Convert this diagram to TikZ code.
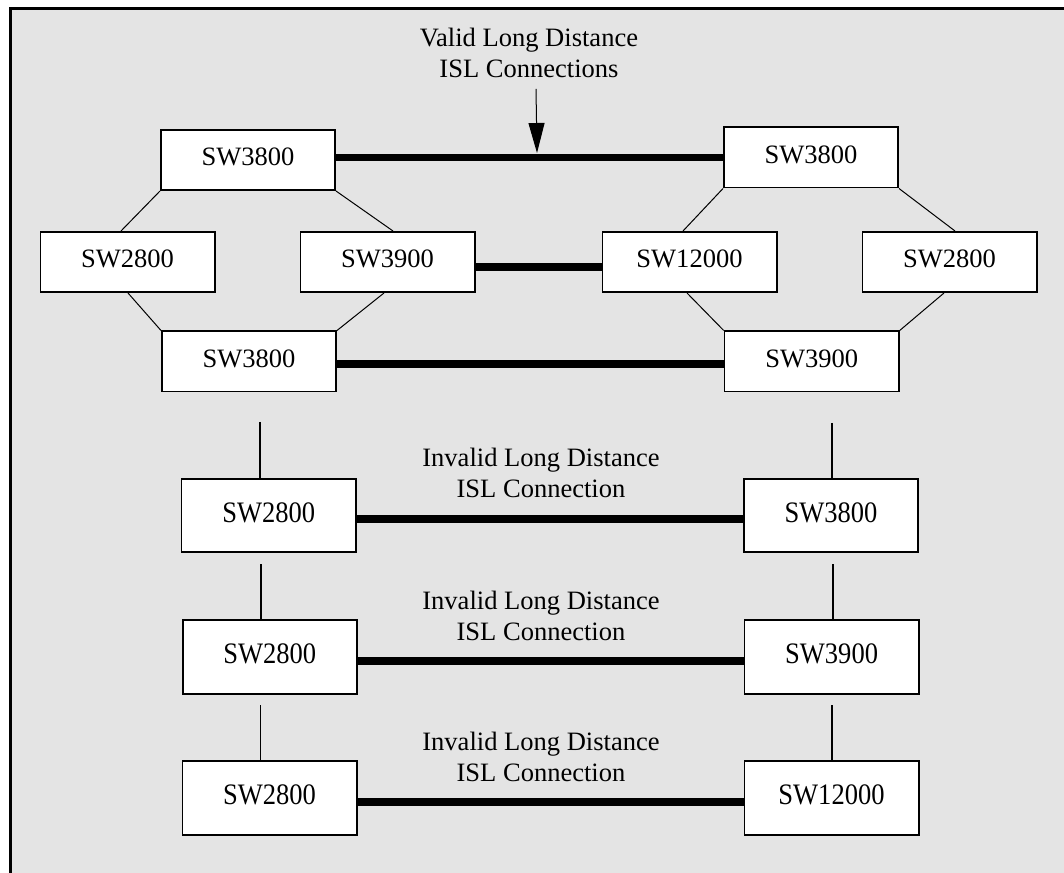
\documentclass[tikz,border=0pt]{standalone}
\usepackage{fontspec}
\usepackage{graphicx}
\setmainfont{Liberation Serif}
\usetikzlibrary{arrows.meta}
\definecolor{bg}{RGB}{228,228,228}
\begin{document}
\begin{tikzpicture}[x=0.75pt,y=-0.75pt,
  box/.style={draw, line width=1.3pt, fill=white, minimum width=130.7pt, minimum height=45.2pt,
    inner sep=0pt, text height=9pt, text depth=0pt, font=\fontsize{19.9}{24}\selectfont},
  lbox/.style={box, minimum height=55pt, text height=9.8pt},
  thinl/.style={line width=0.75pt},
  stub/.style={line width=1.1pt},
  isl/.style={line width=5.6pt},
  lbl/.style={anchor=base, inner sep=0pt, font=\fontsize{19.9}{24}\selectfont}]
\useasboundingbox (0,0) rectangle (1064,873);
\clip (0,0) rectangle (1064,873);
\draw[line width=2.25pt, fill=bg] (10,9) rectangle (1080,890);

% top diamond groups
\node[box] (t1) at (248,160) {SW3800};
\node[box] (l2) at (127.5,262) {SW2800};
\node[box] (l3) at (387.5,262) {SW3900};
\node[box] (b1) at (249,361.5) {SW3800};
\node[box] (rt) at (811,157.5) {SW3800};
\node[box] (r12) at (689.5,262) {SW12000};
\node[box] (r28) at (949.5,262) {SW2800};
\node[box] (rb) at (811.7,361.5) {SW3900};

\draw[thinl] (t1.south west) -- (121,0 |- l2.north);
\draw[thinl] (t1.south east) -- (393,0 |- l3.north);
\draw[thinl] (128,0 |- l2.south) -- (b1.north west);
\draw[thinl] (384,0 |- l3.south) -- (b1.north east);
\draw[thinl] (rt.south west) -- (683,0 |- r12.north);
\draw[thinl] (rt.south east) -- (955,0 |- r28.north);
\draw[thinl] (687,0 |- r12.south) -- (rb.north west);
\draw[thinl] (944,0 |- r28.south) -- (rb.north east);

\draw[isl] (rt.west -| t1.east) -- (rt.west);
\draw[isl] ([yshift=-3.75pt]l3.east) -- ([yshift=-3.75pt]r12.west);
\draw[isl] ([yshift=-1.9pt]b1.east) -- ([yshift=-1.9pt]rb.west);

\node[lbl] (v1) at (529,47) {Valid Long Distance};
\node[lbl] (v2) at (529,78) {ISL Connections};
\coordinate (as) at (536,89);
\coordinate (ae) at (537,153);
\draw[thinl, -{Triangle[length=22.5pt,width=12pt]}] (as) -- (ae);

% lower rows
\node[lbox] (a1) at (268.7,515.5) {\scalebox{1}[1.12]{SW2800}};
\node[lbox] (a2) at (831,515.5) {\scalebox{1}[1.12]{SW3800}};
\node[lbox] (c1) at (269.8,657) {\scalebox{1}[1.12]{SW2800}};
\node[lbox] (c2) at (831.6,657) {\scalebox{1}[1.12]{SW3900}};
\node[lbox] (d1) at (269.5,798) {\scalebox{1}[1.12]{SW2800}};
\node[lbox] (d2) at (831.5,798) {\scalebox{1}[1.12]{SW12000}};

\draw[isl] ([yshift=-2.6pt]a1.east) -- ([yshift=-2.6pt]a2.west);
\draw[isl] ([yshift=-3pt]c1.east) -- ([yshift=-3pt]c2.west);
\draw[isl] ([yshift=-3pt]d1.east) -- ([yshift=-3pt]d2.west);

\coordinate (s1) at (260,422);
\coordinate (s2) at (832,423);
\coordinate (s3) at (261,564);
\coordinate (s4) at (833,564);
\coordinate (s5) at (260.5,705);
\coordinate (s6) at (832,705);
\draw[stub] (s1) -- (s1 |- a1.north);
\draw[stub] (s2) -- (s2 |- a2.north);
\draw[stub] (s3) -- (s3 |- c1.north);
\draw[stub] (s4) -- (s4 |- c2.north);
\draw[stub] (s5) -- (s5 |- d1.north);
\draw[stub] (s6) -- (s6 |- d2.north);

\node[lbl] (i1a) at (541,467) {Invalid Long Distance};
\node[lbl] (i1b) at (541,498) {ISL Connection};
\node[lbl] (i2a) at (541,609) {Invalid Long Distance};
\node[lbl] (i2b) at (541,640) {ISL Connection};
\node[lbl] (i3a) at (541,750) {Invalid Long Distance};
\node[lbl] (i3b) at (541,781) {ISL Connection};
\end{tikzpicture}
\end{document}
